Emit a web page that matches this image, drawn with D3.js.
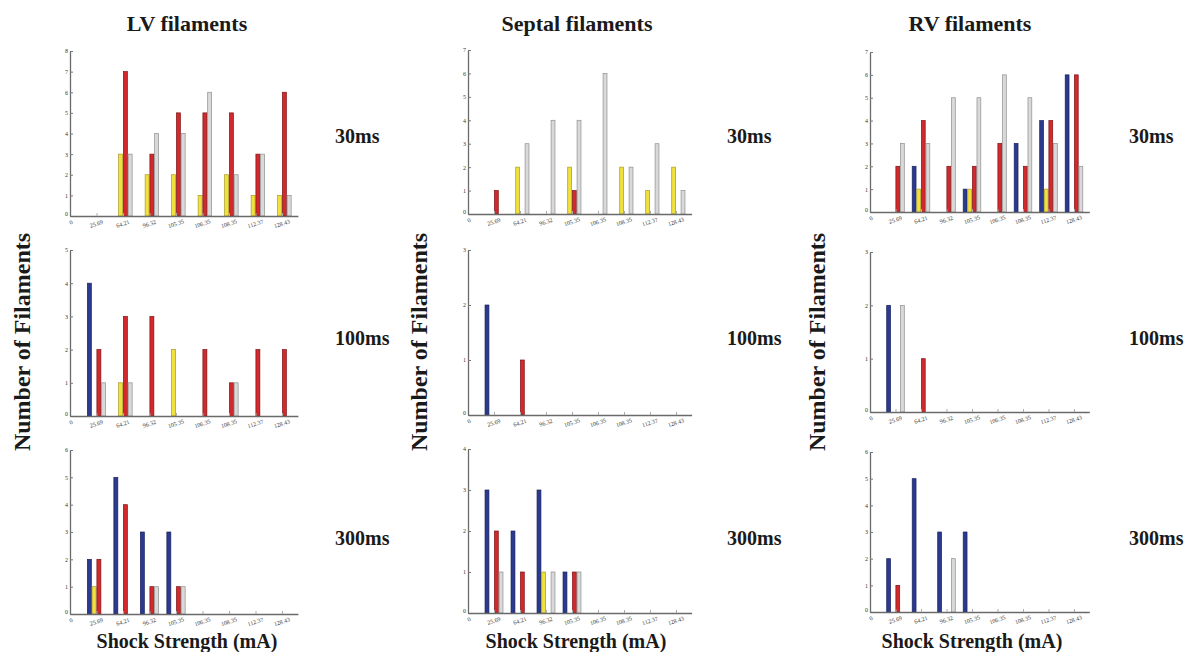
<!DOCTYPE html>
<html><head><meta charset="utf-8">
<script src="https://cdn.jsdelivr.net/npm/d3@7"></script>
<style>
body{margin:0;background:#fff;}
svg text{font-family:"Liberation Serif","DejaVu Serif","Times New Roman",serif;}
</style></head>
<body>
<svg id="chart" width="1184" height="652"></svg>
<script>
// ---- data ----
const categories = ["25.69","64.21","96.32","105.35","106.35","108.35","112.37","128.43"];
const seriesColors = ["#2b3a8e","#f0e13e","#d2292c","#d9d9d9"];
const seriesStrokes = ["#17225e","#a99a22","#7e1416","#8f8f8f"];
const columnTitles = ["LV filaments","Septal filaments","RV filaments"];
const rowLabels = ["30ms","100ms","300ms"];
const yMaxLV = [8,5,6];
const yMaxSeptal = [7,3,4];
const yMaxRV = [7,3,6];
// each panel: [blue, yellow, red, gray] counts per category
const lv30 = [[0,0,0,0,0,0,0,0],[0,3,2,2,1,2,1,1],[0,7,3,5,5,5,3,6],[0,3,4,4,6,2,3,1]];
const lv100 = [[4,0,0,0,0,0,0,0],[0,1,0,2,0,0,0,0],[2,3,3,0,2,1,2,2],[1,1,0,0,0,1,0,0]];
const lv300 = [[2,5,3,3,0,0,0,0],[1,0,0,0,0,0,0,0],[2,4,1,1,0,0,0,0],[0,0,1,1,0,0,0,0]];
const septal30 = [[0,0,0,0,0,0,0,0],[0,2,0,2,0,2,1,2],[1,0,0,1,0,0,0,0],[0,3,4,4,6,2,3,1]];
const septal100 = [[2,0,0,0,0,0,0,0],[0,0,0,0,0,0,0,0],[0,1,0,0,0,0,0,0],[0,0,0,0,0,0,0,0]];
const septal300 = [[3,2,3,1,0,0,0,0],[0,0,1,0,0,0,0,0],[2,1,0,1,0,0,0,0],[1,0,1,1,0,0,0,0]];
const rv30 = [[0,2,0,1,0,3,4,6],[0,1,0,1,0,0,1,0],[2,4,2,2,3,2,4,6],[3,3,5,5,6,5,3,2]];
const rv100 = [[2,0,0,0,0,0,0,0],[0,0,0,0,0,0,0,0],[0,1,0,0,0,0,0,0],[2,0,0,0,0,0,0,0]];
const rv300 = [[2,5,3,3,0,0,0,0],[0,0,0,0,0,0,0,0],[1,0,0,0,0,0,0,0],[0,0,2,0,0,0,0,0]];

const panels = [
  [lv30, lv100, lv300],
  [septal30, septal100, septal300],
  [rv30, rv100, rv300]
];
const yMaxes = [yMaxLV, yMaxSeptal, yMaxRV];

// ---- layout ----
const FONT = '"Liberation Serif","DejaVu Serif","Times New Roman",serif';
const colX0 = [70, 468, 870];
const colUnit = [26.5, 26, 25.5];
const rowGeom = [
  [[51,216],[250,416],[450,614]],
  [[50,214],[250,415],[449,613]],
  [[52,212],[252,412],[452,612]]
];
const xMaxDomain = 8.6;
const slot = 0.18, bw = 0.15;

const svg = d3.select("#chart");

panels.forEach((col, c) => {
  col.forEach((panel, r) => {
    const [top, base] = rowGeom[c][r];
    const x0 = colX0[c];
    const x = d3.scaleLinear().domain([0, xMaxDomain]).range([x0, x0 + xMaxDomain*colUnit[c]]);
    const ymax = yMaxes[c][r];
    const y = d3.scaleLinear().domain([0, ymax]).range([base, top]);
    const g = svg.append("g");

    // bars
    panel.forEach((vals, s) => {
      g.selectAll(null).data(vals.map((v,i)=>({v,i}))).enter()
        .filter(d => d.v > 0)
        .append("rect")
        .attr("x", d => x(d.i + 1 + (s - 1.5) * slot - bw/2))
        .attr("width", x(bw) - x(0))
        .attr("y", d => y(d.v))
        .attr("height", d => y(0) - y(d.v))
        .attr("fill", seriesColors[s])
        .attr("stroke", seriesStrokes[s])
        .attr("stroke-width", 0.7);
    });

    // y axis
    const ya = g.append("g").attr("transform", `translate(${x0},0)`)
      .call(d3.axisLeft(y).ticks(ymax).tickFormat(d3.format("d")).tickSizeInner(-3).tickSizeOuter(0).tickPadding(2));
    ya.attr("font-family", FONT);
    ya.select(".domain").attr("stroke", "#6a6a6a").attr("stroke-width", 1.3);
    ya.selectAll(".tick line").attr("stroke", "#777");
    ya.selectAll(".tick text").attr("font-size", 6).attr("fill", "#333");
    ya.selectAll(".tick").filter(d => d === 0).select("text").attr("dy", "-0.1em");

    // x axis
    const xa = g.append("g").attr("transform", `translate(0,${base})`)
      .call(d3.axisBottom(x).tickValues(d3.range(1, 9)).tickFormat(i => categories[i-1]).tickSizeInner(-3).tickSizeOuter(0).tickPadding(3));
    xa.attr("font-family", FONT);
    xa.select(".domain").attr("stroke", "#6a6a6a").attr("stroke-width", 1.3);
    xa.selectAll(".tick line").attr("stroke", "#aaa");
    xa.selectAll(".tick text").attr("font-size", 6).attr("fill", "#333")
      .attr("text-anchor", "middle")
      .attr("transform", "rotate(-18) translate(-3,2)");
    // origin "0"
    g.append("text").attr("x", x(0) + 2).attr("y", base + 8)
      .attr("font-size", 6).attr("fill", "#333").attr("text-anchor", "middle")
      .attr("transform", `rotate(-30,${x(0)+2},${base+8})`).text("0");
  });
});

// column titles
const titleX = [187, 577, 970];
columnTitles.forEach((t, c) => {
  svg.append("text").attr("x", titleX[c]).attr("y", 31)
    .attr("text-anchor", "middle").attr("font-weight", "bold").attr("font-size", 22)
    .attr("fill", "#1a1a1a").text(t);
});

// row labels
const rowLabelX = [335, 727, 1129];
const rowLabelY = [143, 345, 545];
rowLabelX.forEach((lx) => {
  rowLabels.forEach((t, r) => {
    svg.append("text").attr("x", lx).attr("y", rowLabelY[r])
      .attr("font-weight", "bold").attr("font-size", 20).attr("fill", "#1a1a1a").text(t);
  });
});

// y titles
const yTitleX = [30, 427, 825];
yTitleX.forEach(yx => {
  svg.append("text").attr("transform", `translate(${yx},342) rotate(-90)`)
    .attr("text-anchor", "middle").attr("font-weight", "bold").attr("font-size", 24)
    .attr("fill", "#1a1a1a").text("Number of Filaments");
});

// x titles
const xTitleX = [187, 576, 972];
xTitleX.forEach(xx => {
  svg.append("text").attr("x", xx).attr("y", 648)
    .attr("text-anchor", "middle").attr("font-weight", "bold").attr("font-size", 20)
    .attr("fill", "#1a1a1a").text("Shock Strength (mA)");
});
</script>
</body></html>
